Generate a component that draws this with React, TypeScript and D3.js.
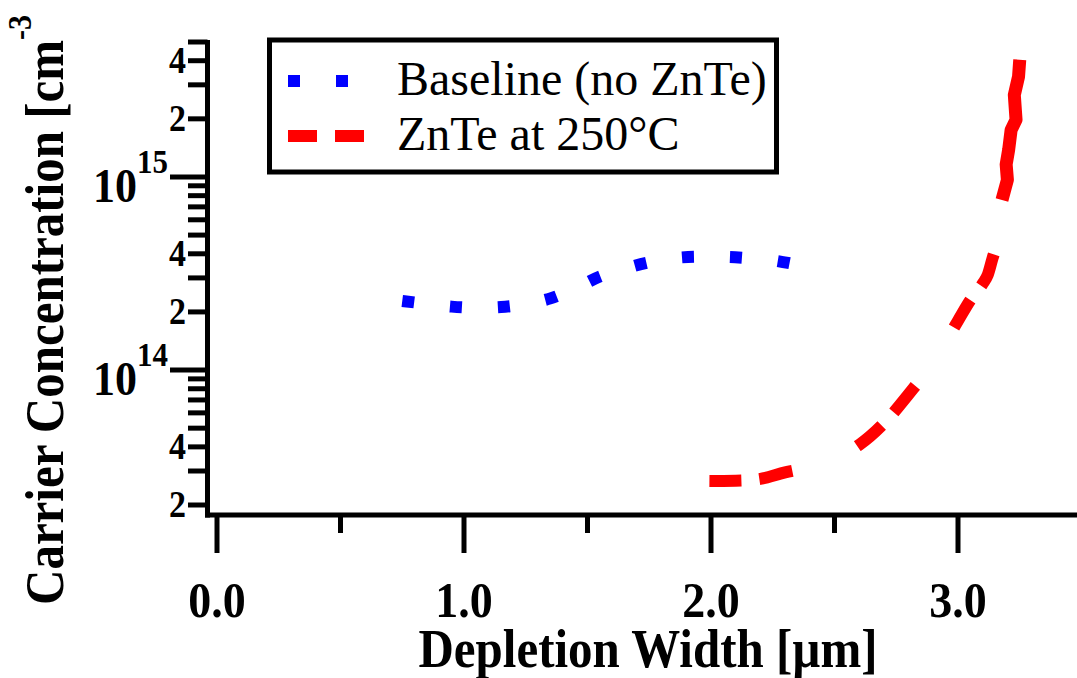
import React from 'react';
import * as d3 from 'd3';

// Baseline (no ZnTe)
const baselineX = [0.75, 0.85, 0.95, 1.05, 1.15, 1.25, 1.35, 1.45, 1.55, 1.65, 1.75, 1.85, 1.95, 2.05, 2.15, 2.25, 2.33];
const baselineN = [2.28e14, 2.2e14, 2.13e14, 2.1e14, 2.12e14, 2.2e14, 2.35e14, 2.65e14, 3.05e14, 3.35e14, 3.62e14, 3.8e14, 3.86e14, 3.86e14, 3.8e14, 3.7e14, 3.55e14];

// ZnTe at 250°C (smooth part)
const znteX = [1.8, 1.9, 2.0, 2.1, 2.2, 2.3, 2.4, 2.5, 2.6, 2.7, 2.8, 2.9, 3.0, 3.05, 3.1, 3.12, 3.14, 3.16, 3.17, 3.175, 3.178];
const znteN = [2.8e13, 2.72e13, 2.66e13, 2.67e13, 2.73e13, 2.95e13, 3.15e13, 3.5e13, 4.1e13, 5.3e13, 7.5e13, 1.1e14, 1.8e14, 2.3e14, 2.8e14, 3.1e14, 3.8e14, 4.6e14, 5.2e14, 6.2e14, 7.6e14];
// ZnTe at 250°C (noisy top part)
const znteTopX = [3.178, 3.2, 3.195, 3.205, 3.215, 3.235, 3.228, 3.245, 3.25];
const znteTopN = [7.6e14, 9.66e14, 1.16e15, 1.38e15, 1.75e15, 1.98e15, 2.66e15, 3.3e15, 4.05e15];

const xMajorTicks = [0, 1, 2, 3];
const xMinorTicks = [0.5, 1.5, 2.5];
const yDecades = [13, 14, 15];
const yLabelMults = [2, 4];
const legendLabels = ['Baseline (no ZnTe)', 'ZnTe at 250°C'];

const FONT = "'Liberation Serif', 'Times New Roman', serif";
const SY = 1.12; // vertical stretch of bold labels

export default function App() {
  const x = d3.scaleLinear().domain([0, 3.5]).range([217, 217 + 3.5 * 247]);
  const y = d3.scaleLog().domain([2e13, 5e15]).range([505, 42]);

  const line = d3.line<[number, number]>().x(d => x(d[0])).y(d => y(d[1])).curve(d3.curveMonotoneX);
  const lineLin = d3.line<[number, number]>().x(d => x(d[0])).y(d => y(d[1]));

  const blueData = baselineX.map((v, i) => [v, baselineN[i]] as [number, number]);
  const redData = znteX.map((v, i) => [v, znteN[i]] as [number, number]);
  const redTop = znteTopX.map((v, i) => [v, znteTopN[i]] as [number, number]);

  const yTicks: { v: number; m: number; major: boolean }[] = [];
  yDecades.forEach(dcd => {
    for (let m = 1; m <= 9; m++) {
      const v = m * Math.pow(10, dcd);
      if (v >= 2e13 * 0.999 && v <= 5e15 * 1.001) yTicks.push({ v, m, major: m === 1 });
    }
  });

  const axisX = 207.5;
  const axisY = 515;

  return (
    <svg width={1077} height={678} style={{ position: 'absolute', left: 0, top: 0, background: '#fff' }} fontFamily={FONT}>
      {/* y axis line */}
      <line x1={axisX} x2={axisX} y1={40} y2={axisY + 2.5} stroke="#000" strokeWidth={5} />
      {/* x axis line */}
      <line x1={axisX - 2.5} x2={1077} y1={axisY} y2={axisY} stroke="#000" strokeWidth={5} />

      {/* y ticks */}
      {yTicks.map((t, i) => (
        <line key={'yt' + i} x1={t.major ? 170 : 188} x2={axisX} y1={y(t.v)} y2={y(t.v)} stroke="#000" strokeWidth={5} />
      ))}
      {yTicks.filter(t => yLabelMults.includes(t.m)).map((t, i) => (
        <text key={'yl' + i} transform={`translate(186,${y(t.v) + 12}) scale(1,${SY})`} textAnchor="end" fontWeight="bold" fontSize={34}>{t.m}</text>
      ))}
      {yTicks.filter(t => t.major).map((t, i) => (
        <text key={'ym' + i} transform={`translate(168,${y(t.v) + 25}) scale(1,${SY})`} textAnchor="end" fontWeight="bold" fontSize={44}>
          10<tspan fontSize={31} dy={-26}>{Math.round(Math.log10(t.v))}</tspan>
        </text>
      ))}

      {/* x ticks */}
      {xMajorTicks.map((t, i) => (
        <line key={'xt' + i} x1={x(t)} x2={x(t)} y1={axisY} y2={553} stroke="#000" strokeWidth={5} />
      ))}
      {xMinorTicks.map((t, i) => (
        <line key={'xm' + i} x1={x(t)} x2={x(t)} y1={axisY} y2={533} stroke="#000" strokeWidth={5} />
      ))}
      {xMajorTicks.map((t, i) => (
        <text key={'xl' + i} transform={`translate(${x(t)},617) scale(1,${SY})`} textAnchor="middle" fontWeight="bold" fontSize={46}>{t.toFixed(1)}</text>
      ))}

      {/* axis titles */}
      <text transform={`translate(648,667) scale(1,${SY})`} textAnchor="middle" fontWeight="bold" fontSize={49}>Depletion Width [µm]</text>
      <text transform={`translate(63,605) rotate(-90) scale(1,${SY})`} textAnchor="start" fontWeight="bold" fontSize={49}>
        Carrier Concentration [cm<tspan fontSize={30} dy={-29}>-3</tspan>
      </text>

      {/* data */}
      <path d={line(blueData) || ''} fill="none" stroke="#0000ff" strokeWidth={12} strokeDasharray="12,36" />
      <path d={line(redData) || ''} fill="none" stroke="#ff0000" strokeWidth={12} strokeDasharray="32,18,34,70" strokeDashoffset={106} />
      <path d={lineLin(redTop) || ''} fill="none" stroke="#ff0000" strokeWidth={13} strokeLinejoin="round" />

      {/* legend */}
      <rect x={269.5} y={40} width={507} height={132} fill="#fff" stroke="#000" strokeWidth={5} />
      <line x1={288} x2={348} y1={81} y2={81} stroke="#0000ff" strokeWidth={12} strokeDasharray="12,36" />
      <line x1={288} x2={365} y1={136} y2={136} stroke="#ff0000" strokeWidth={12} strokeDasharray="29,18" />
      <text x={397} y={95} fontSize={48}>{legendLabels[0]}</text>
      <text x={397} y={150} fontSize={48}>{legendLabels[1]}</text>
    </svg>
  );
}
